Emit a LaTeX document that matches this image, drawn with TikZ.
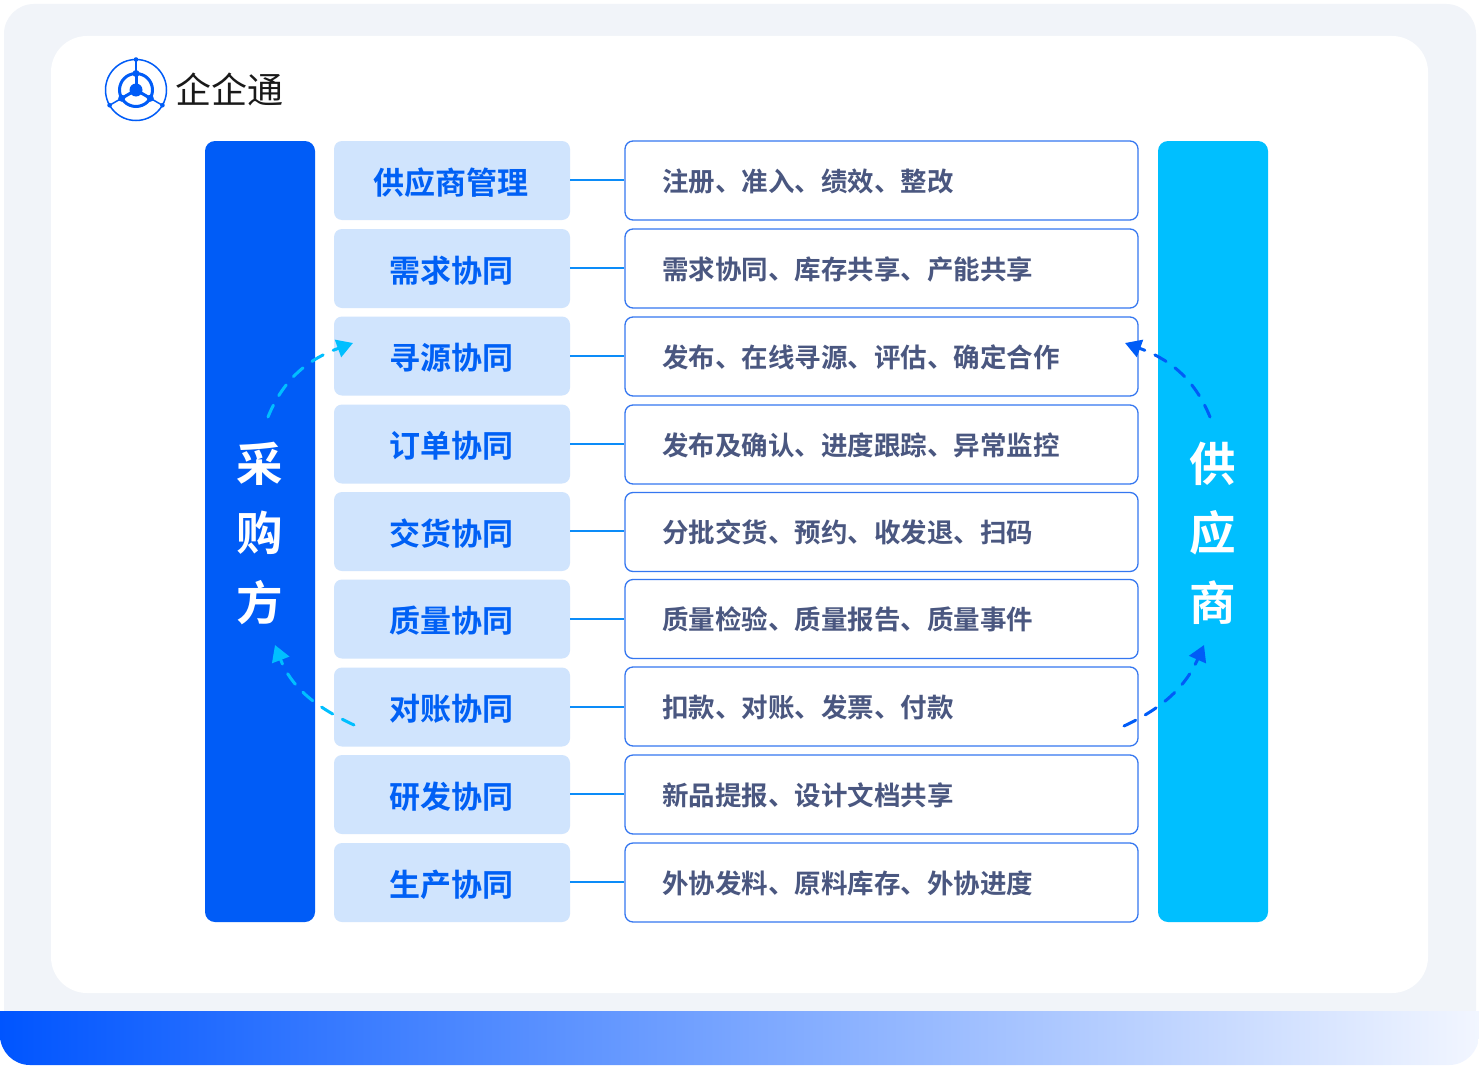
\documentclass[tikz,border=0pt]{standalone}
\usepackage{fontspec}
\setmainfont{Noto Sans CJK SC}[BoldFont={Noto Sans CJK SC Bold}]
\usetikzlibrary{arrows.meta}
\definecolor{panelbg}{HTML}{F1F4F9}
\definecolor{buyblue}{HTML}{005CF7}
\definecolor{supcyan}{HTML}{00BFFF}
\definecolor{tagbg}{HTML}{D0E4FD}
\definecolor{tagtxt}{HTML}{0060F5}
\definecolor{desctxt}{HTML}{4A5780}
\definecolor{descline}{HTML}{3577F0}
\definecolor{linkline}{HTML}{0C8CF8}
\definecolor{bandleft}{HTML}{0055FF}
\definecolor{bandright}{HTML}{F2F6FF}
\tikzset{
tagbox/.style={fill=tagbg, rounded corners=8pt, minimum width=236pt, minimum height=79pt,
    inner sep=0pt, text height=28pt, text depth=0.4pt, text=tagtxt, font=\fontsize{31}{31}\selectfont\bfseries},
descbox/.style={draw=descline, line width=1.3pt, fill=white, rounded corners=8pt, minimum width=513pt,
    minimum height=79pt, inner sep=0pt, text height=23pt, text depth=2pt, align=left, text width=439pt, text=desctxt,
    font=\fontsize{26.5}{26.5}\selectfont\bfseries},
sidebar/.style={rounded corners=10pt, minimum width=110pt, minimum height=781pt, inner sep=0pt},
sidetxt/.style={inner sep=0pt, text=white, font=\fontsize{46.5}{46.5}\selectfont\bfseries},
flowline/.style={line width=3pt, dash pattern=on 13pt off 11pt, line cap=round,
    -{Triangle[length=16pt,width=18pt]}}
}
\begin{document}
\begin{tikzpicture}[x=1pt,y=-1pt]
\useasboundingbox (0,0) rectangle (1479,1065);
\fill[white] (0,0) rectangle (1479,1065);
\fill[panelbg, rounded corners=30pt] (4,4) rectangle (1476,1040);
\fill[white, rounded corners=36pt] (51,36) rectangle (1428,993);
% bottom band
\shade[left color=bandleft, right color=bandright]
    (0,1011) -- (1479,1011) [rounded corners=30pt] -- (1479,1065) -- (0,1065) [sharp corners] -- (0,1040) -- cycle;

% logo
\begin{scope}[buyblue]
\draw[line width=1.5pt] (136,90) circle (30.5);
\draw[line width=3pt] (136,90) circle (16.5);
\foreach \a in {270,150,30} {
    \draw[line width=1.5pt] (136,90) -- +(\a:30.5);
    \draw[line width=3pt] (136,90) -- +(\a:16.5);
    \fill (136,90) +(\a:16.5) circle (3.5);
    \fill (136,90) +(\a:30.5) circle (2.3);
}
\fill (136,90) circle (6.5);
\end{scope}
\node (brand) [anchor=west, inner sep=0pt, text=black!90, font=\fontsize{36}{36}\selectfont] at (175,89) {企企通};

% two sides
\node (buyer) [sidebar, fill=buyblue] at (260,531.5) {};
\node (supplier) [sidebar, fill=supcyan] at (1213,531.5) {};
\foreach \t/\y in {采/464,购/533,方/603}
    \node (b-\y) [sidetxt] at (259.5,\y) {\t};
\foreach \t/\y in {供/464,应/533,商/603}
    \node (s-\y) [sidetxt] at (1212.5,\y) {\t};

% rows
\foreach \i/\y/\u/\t/\d in {
    1/180.5/180.5/供应商管理/注册、准入、绩效、整改,
    2/268.5/268.5/需求协同/需求协同、库存共享、产能共享,
    3/356/356.5/寻源协同/发布、在线寻源、评估、确定合作,
    4/444/444.5/订单协同/发布及确认、进度跟踪、异常监控,
    5/531.5/532/交货协同/分批交货、预约、收发退、扫码,
    6/619/619/质量协同/质量检验、质量报告、质量事件,
    7/707/706.5/对账协同/扣款、对账、发票、付款,
    8/794.5/794.5/研发协同/新品提报、设计文档共享,
    9/882.5/882.5/生产协同/外协发料、原料库存、外协进度%
    }{
    \node (tag-\i) [tagbox] at (452,\y) {\kern-2pt\t};
    \node (desc-\i) [descbox] at (881.5,\u) {\d};
    \draw [line width=2pt, linkline] ([yshift=0.5pt]tag-\i.east) -- ([yshift=0.5pt]tag-\i.east -| desc-\i.west);
}

% cycle arrows
\coordinate (bt1) at (268,417);
\coordinate (bt2) at (353,343);
\coordinate (bb1) at (354,725);
\coordinate (bb2) at (275,645);
\coordinate (st1) at (1210,417);
\coordinate (st2) at (1125,343);
\coordinate (sb1) at (1124,726);
\coordinate (sb2) at (1204,645);
\draw [flowline, supcyan] (bt1) to[out=68, in=200] (bt2);
\draw [flowline, supcyan] (bb1) to[out=155, in=-69] (bb2);
\draw [flowline, buyblue] (st1) to[out=112, in=-20] (st2);
\draw [flowline, buyblue] (sb1) to[out=25, in=-114] (sb2);
\end{tikzpicture}
\end{document}
